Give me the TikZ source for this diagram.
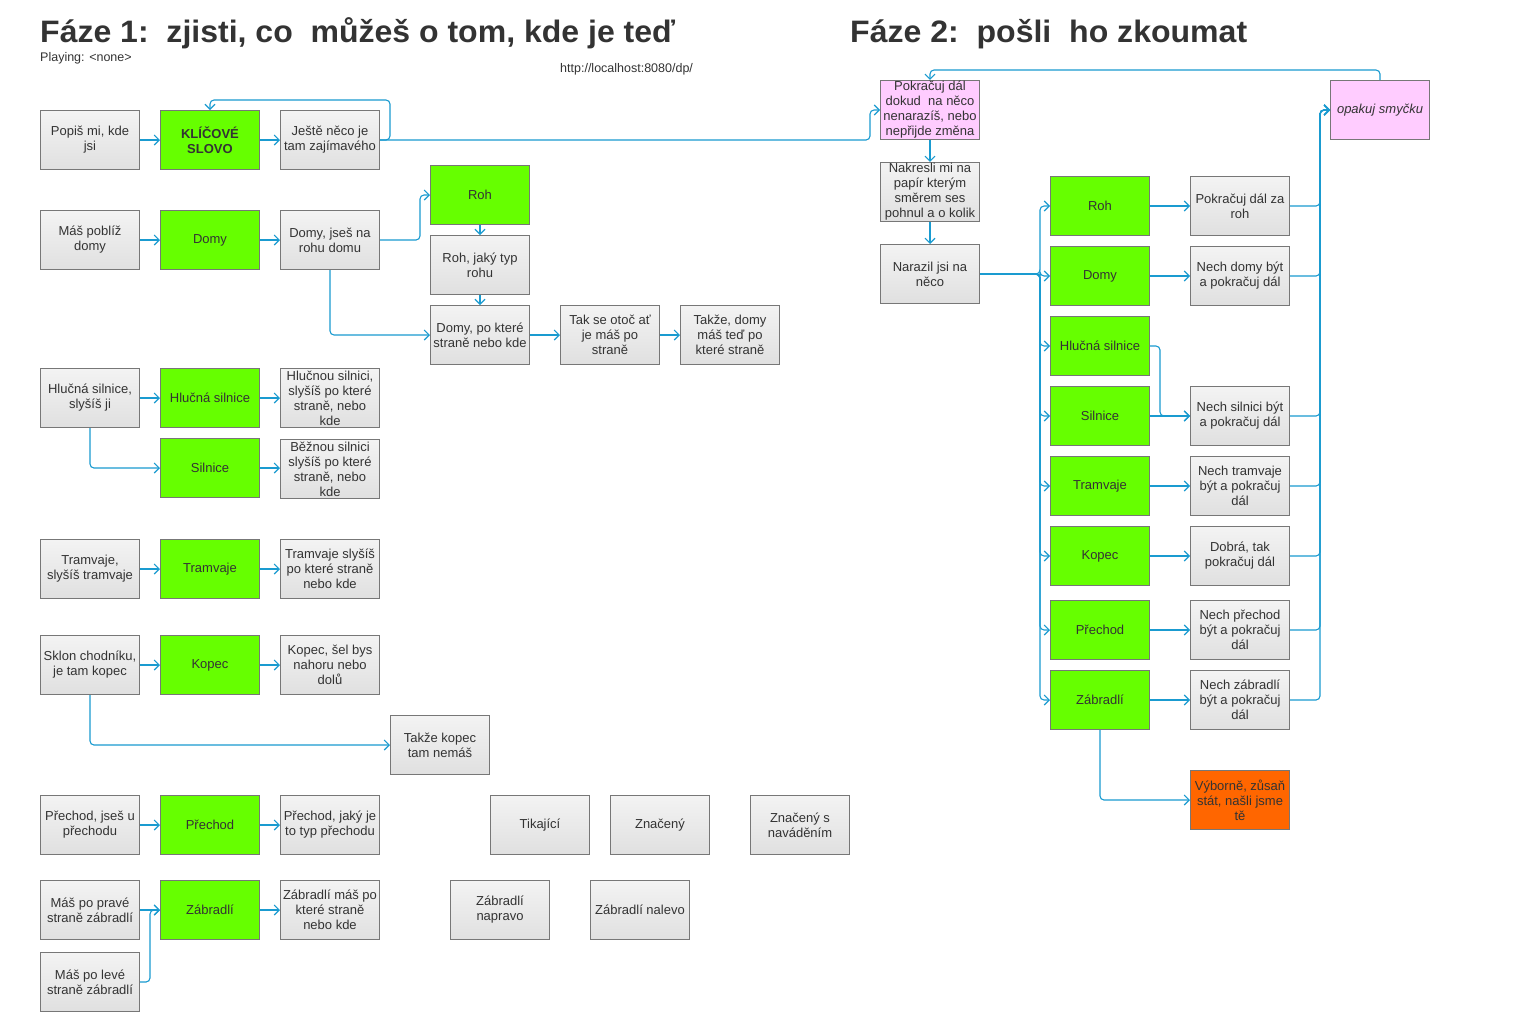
\documentclass[tikz,border=0pt]{standalone}
\usepackage{graphicx}
\usepackage{fontspec}
\setmainfont{Liberation Sans}
\usetikzlibrary{arrows.meta}
\definecolor{cblue}{HTML}{1A9BD0}
\definecolor{bord}{HTML}{777777}
\definecolor{gtop}{HTML}{F3F3F3}
\definecolor{gbot}{HTML}{E0E0E0}
\definecolor{grn}{HTML}{66FF00}
\definecolor{pnk}{HTML}{FFCCFF}
\definecolor{org}{HTML}{FF6600}
\definecolor{txt}{HTML}{333333}
\newcommand\bxfont{\fontsize{13}{15}\selectfont}
\begin{document}
\begin{tikzpicture}[x=1pt,y=-1pt,
  box/.style={draw=bord, line width=1pt, minimum width=99pt, minimum height=59pt, inner sep=1pt, align=center, font=\bxfont, text=txt},
  graybox/.style={box, top color=gtop, bottom color=gbot},
  greenbox/.style={box, fill=grn},
  pinkbox/.style={box, fill=pnk},
  orangebox/.style={box, fill=org},
  conn/.style={draw=cblue, line width=1.1pt, rounded corners=4pt, -{Straight Barb[length=5pt,width=10pt]}},
  plain/.style={anchor=base west, inner sep=0pt, text=txt}]
\useasboundingbox[fill=white] (0,0) rectangle (1521,1013);

% titles
\node[plain] (t1) at (40,42) {\resizebox{635pt}{\height}{\fontsize{31}{36}\selectfont\bfseries Fáze 1:\ \ zjisti, co\ \ můžeš o tom, kde je teď}};
\node[plain] (t2) at (850,42) {\resizebox{397pt}{\height}{\fontsize{31}{36}\selectfont\bfseries Fáze 2:\ \ pošli\ \ ho zkoumat}};
\node[plain] (play) at (40,61) {\fontsize{12.5}{14}\selectfont Playing: <none>};
\node[plain] (url) at (560,72) {\fontsize{12.5}{14}\selectfont http://localhost:8080/dp/};

% Phase 1
\node[graybox] (popis) at (90,140) {Popiš mi, kde\\jsi};
\node[greenbox] (klic) at (210,140) {\bfseries KLÍČOVÉ\\\bfseries SLOVO};
\node[graybox] (jeste) at (330,140) {Ještě něco je\\tam zajímavého};

\node[graybox] (mpd) at (90,240) {Máš poblíž\\domy};
\node[greenbox] (domy) at (210,240) {Domy};
\node[graybox] (dj) at (330,240) {Domy, jseš na\\rohu domu};
\node[greenbox] (roh) at (480,195) {Roh};
\node[graybox] (rjt) at (480,265) {Roh, jaký typ\\rohu};
\node[graybox] (dpk) at (480,335) {Domy, po které\\straně nebo kde};
\node[graybox] (tso) at (610,335) {Tak se otoč ať\\je máš po\\straně};
\node[graybox] (tdm) at (730,335) {Takže, domy\\máš teď po\\které straně};

\node[graybox] (hss) at (90,398) {Hlučná silnice,\\slyšíš ji};
\node[greenbox] (hs) at (210,398) {Hlučná silnice};
\node[graybox] (hsp) at (330,398) {Hlučnou silnici,\\slyšíš po které\\straně, nebo\\kde};
\node[greenbox] (sil) at (210,468) {Silnice};
\node[graybox] (bsp) at (330,469) {Běžnou silnici\\slyšíš po které\\straně, nebo\\kde};

\node[graybox] (tst) at (90,569) {Tramvaje,\\slyšíš tramvaje};
\node[greenbox] (tram) at (210,569) {Tramvaje};
\node[graybox] (tsp) at (330,569) {Tramvaje slyšíš\\po které straně\\nebo kde};

\node[graybox] (skl) at (90,665) {Sklon chodníku,\\je tam kopec};
\node[greenbox] (kop) at (210,665) {Kopec};
\node[graybox] (ksb) at (330,665) {Kopec, šel bys\\nahoru nebo\\dolů};
\node[graybox] (tkn) at (440,745) {Takže kopec\\tam nemáš};

\node[graybox] (pju) at (90,825) {Přechod, jseš u\\přechodu};
\node[greenbox] (pre) at (210,825) {Přechod};
\node[graybox] (pjt) at (330,825) {Přechod, jaký je\\to typ přechodu};
\node[graybox] (tik) at (540,825) {Tikající};
\node[graybox] (zn) at (660,825) {Značený};
\node[graybox] (znn) at (800,825) {Značený s\\naváděním};

\node[graybox] (mpp) at (90,910) {Máš po pravé\\straně zábradlí};
\node[greenbox] (zab) at (210,910) {Zábradlí};
\node[graybox] (zmp) at (330,910) {Zábradlí máš po\\které straně\\nebo kde};
\node[graybox] (mpl) at (90,982) {Máš po levé\\straně zábradlí};
\node[graybox] (zna) at (500,910) {Zábradlí\\napravo};
\node[graybox] (znl) at (640,910) {Zábradlí nalevo};

% Phase 2
\node[pinkbox] (pokr) at (930,110) {Pokračuj dál\\dokud\ \ na něco\\nenarazíš, nebo\\nepřijde změna};
\node[graybox] (nak) at (930,192) {Nakresli mi na\\papír kterým\\směrem ses\\pohnul a o kolik};
\node[graybox] (nar) at (930,274) {Narazil jsi na\\něco};
\node[pinkbox] (opak) at (1380,110) {\itshape opakuj smyčku};

\node[greenbox] (g1) at (1100,206) {Roh};
\node[greenbox] (g2) at (1100,276) {Domy};
\node[greenbox] (g3) at (1100,346) {Hlučná silnice};
\node[greenbox] (g4) at (1100,416) {Silnice};
\node[greenbox] (g5) at (1100,486) {Tramvaje};
\node[greenbox] (g6) at (1100,556) {Kopec};
\node[greenbox] (g7) at (1100,630) {Přechod};
\node[greenbox] (g8) at (1100,700) {Zábradlí};

\node[graybox] (n1) at (1240,206) {Pokračuj dál za\\roh};
\node[graybox] (n2) at (1240,276) {Nech domy být\\a pokračuj dál};
\node[graybox] (n4) at (1240,416) {Nech silnici být\\a pokračuj dál};
\node[graybox] (n5) at (1240,486) {Nech tramvaje\\být a pokračuj\\dál};
\node[graybox] (n6) at (1240,556) {Dobrá, tak\\pokračuj dál};
\node[graybox] (n7) at (1240,630) {Nech přechod\\být a pokračuj\\dál};
\node[graybox] (n8) at (1240,700) {Nech zábradlí\\být a pokračuj\\dál};
\node[orangebox] (vyb) at (1240,800) {Výborně, zůsaň\\stát, našli jsme\\tě};

% connectors phase 1
\draw[conn] (popis) -- (klic);
\draw[conn] (klic) -- (jeste);
\draw[conn] (jeste.east) -- ([xshift=10pt]jeste.east) |- ([yshift=10pt]klic.north) -- (klic.north);
\draw[conn] (jeste.east) -- ([xshift=-10pt]pokr.west |- jeste.east) |- (pokr.west);

\draw[conn] (mpd) -- (domy);
\draw[conn] (domy) -- (dj);
\draw[conn] (dj.east) -- ([xshift=-10pt]roh.west |- dj.east) |- (roh.west);
\draw[conn] (dj.south) |- (dpk.west);
\draw[conn] (roh) -- (rjt);
\draw[conn] (rjt) -- (dpk);
\draw[conn] (dpk) -- (tso);
\draw[conn] (tso) -- (tdm);

\draw[conn] (hss) -- (hs);
\draw[conn] (hs) -- (hsp);
\draw[conn] (hss.south) |- (sil.west);
\draw[conn] (sil.east) -- (bsp.west |- sil.east);

\draw[conn] (tst) -- (tram);
\draw[conn] (tram) -- (tsp);

\draw[conn] (skl) -- (kop);
\draw[conn] (kop) -- (ksb);
\draw[conn] (skl.south) |- (tkn.west);

\draw[conn] (pju) -- (pre);
\draw[conn] (pre) -- (pjt);

\draw[conn] (mpp) -- (zab);
\draw[conn] (zab) -- (zmp);
\draw[conn] (mpl.east) -- ([xshift=10pt]mpl.east) |- (zab.west);

% connectors phase 2
\draw[conn] (pokr) -- (nak);
\draw[conn] (nak) -- (nar);
\draw[conn] (opak.north) -- ([yshift=10pt]opak.north) -| (pokr.north);
\foreach \g in {g1,g2,g3,g4,g5,g6,g7,g8}
  \draw[conn] (nar.east) -- ([xshift=-10pt]\g.west |- nar.east) |- (\g.west);
\draw[conn] (g1) -- (n1);
\draw[conn] (g2) -- (n2);
\draw[conn] (g3.east) -- ([xshift=10pt]g3.east) |- (n4.west);
\draw[conn] (g4) -- (n4);
\draw[conn] (g5) -- (n5);
\draw[conn] (g6) -- (n6);
\draw[conn] (g7) -- (n7);
\draw[conn] (g8) -- (n8);
\draw[conn] (g8.south) |- (vyb.west);
\foreach \n in {n1,n2,n4,n5,n6,n7,n8}
  \draw[conn] (\n.east) -- ([xshift=-10pt]opak.west |- \n.east) |- (opak.west);
\end{tikzpicture}
\end{document}
